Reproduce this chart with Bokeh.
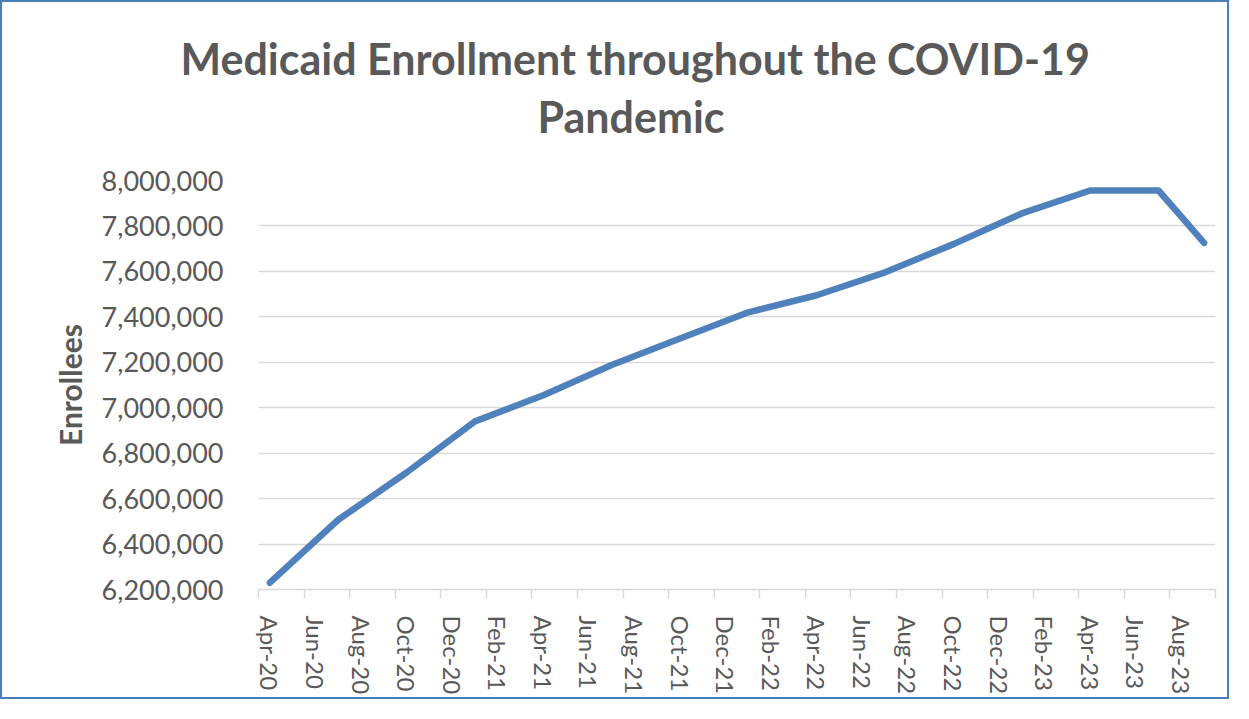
from bokeh.plotting import figure
from bokeh.models import Range1d, FixedTicker, NumeralTickFormatter, Title
from bokeh.embed import file_html
from bokeh.resources import INLINE

# ---- data ----
month_names = ["Jan", "Feb", "Mar", "Apr", "May", "Jun", "Jul", "Aug", "Sep", "Oct", "Nov", "Dec"]
_all = [f"{m}-{y}" for y in ["20", "21", "22", "23"] for m in month_names]
all_months = _all[_all.index("Apr-20"): _all.index("Sep-23") + 1]

dates = ["Apr-20", "Jul-20", "Oct-20", "Jan-21", "Apr-21", "Jul-21", "Oct-21", "Jan-22",
         "Apr-22", "Jul-22", "Oct-22", "Jan-23", "Apr-23", "Jul-23", "Sep-23"]
enrollees = [6230000, 6507000, 6715000, 6940000, 7055000, 7188000, 7305000, 7420000,
             7495000, 7596000, 7720000, 7855000, 7956000, 7956000, 7725000]

x_tick_labels = ["Apr-20", "Jun-20", "Aug-20", "Oct-20", "Dec-20", "Feb-21", "Apr-21",
                 "Jun-21", "Aug-21", "Oct-21", "Dec-21", "Feb-22", "Apr-22", "Jun-22",
                 "Aug-22", "Oct-22", "Dec-22", "Feb-23", "Apr-23", "Jun-23", "Aug-23"]
y_ticks = [6200000, 6400000, 6600000, 6800000, 7000000, 7200000, 7400000, 7600000,
           7800000, 8000000]

title_line1 = "Medicaid Enrollment throughout the COVID-19"
title_line2 = "Pandemic"
y_label = "Enrollees"

# ---- figure ----
TEXT = "#595959"
GRID = "#D9D9D9"
FONT = "Lato"

n = len(all_months)
x_vals = [all_months.index(d) for d in dates]

p = figure(width=1229, height=699, output_backend="svg", toolbar_location=None,
           x_range=Range1d(-0.5, n - 0.5), y_range=Range1d(y_ticks[0], y_ticks[-1]),
           min_border_left=256, min_border_right=16, min_border_top=178,
           min_border_bottom=112)
p.styles = {"border": "2px solid #4A7EBB"}
p.outline_line_color = None
p.background_fill_color = "white"
p.border_fill_color = "white"

# titles: spacer (innermost), second line, first line (outermost)
spacer = Title(text=" ", text_font_size="10px", standoff=26, text_color="white")
p.add_layout(spacer, "above")
t2 = Title(text=title_line2, align="left", offset=279, text_font=FONT,
           text_font_style="bold", text_font_size="43px", text_color=TEXT, standoff=0)
p.add_layout(t2, "above")

p.title.text = title_line1
p.title.text_font = FONT
p.title.text_font_style = "bold"
p.title.text_font_size = "43px"
p.title.text_color = TEXT
p.title.align = "left"
p.title.offset = -78
p.title.standoff = 10

p.line(x_vals, enrollees, line_width=6.5, line_color="#4F81BD",
       line_cap="round", line_join="round")

# x axis
xticks = [all_months.index(l) for l in x_tick_labels]
p.xaxis.ticker = FixedTicker(ticks=xticks,
                             minor_ticks=[i - 0.5 for i in range(0, n + 1, 2)])
p.xaxis.major_label_overrides = {i: all_months[i] for i in xticks}
p.xaxis.major_label_orientation = "vertical"
p.xaxis.major_label_text_font = FONT
p.xaxis.major_label_text_font_size = "24px"
p.xaxis.major_label_text_color = TEXT
p.xaxis.major_label_standoff = 17
p.xaxis.major_tick_line_color = None
p.xaxis.major_tick_out = 0
p.xaxis.major_tick_in = 0
p.xaxis.minor_tick_line_color = GRID
p.xaxis.minor_tick_line_width = 1.5
p.xaxis.minor_tick_out = 9
p.xaxis.minor_tick_in = 0
p.xaxis.axis_line_color = GRID
p.xaxis.axis_line_width = 1.5
p.xgrid.grid_line_color = None

# y axis
p.yaxis.ticker = FixedTicker(ticks=y_ticks)
p.yaxis.formatter = NumeralTickFormatter(format="0,0")
p.yaxis.major_label_text_font = FONT
p.yaxis.major_label_text_font_size = "27px"
p.yaxis.major_label_text_color = TEXT
p.yaxis.major_label_standoff = 35
p.yaxis.axis_line_color = None
p.yaxis.major_tick_line_color = None
p.yaxis.major_tick_out = 0
p.yaxis.major_tick_in = 0
p.yaxis.minor_tick_line_color = None
p.yaxis.axis_label = y_label
p.yaxis.axis_label_text_font = FONT
p.yaxis.axis_label_text_font_style = "bold"
p.yaxis.axis_label_text_font_size = "30px"
p.yaxis.axis_label_text_color = TEXT
p.yaxis.axis_label_standoff = 11
p.ygrid.grid_line_color = GRID
p.ygrid.grid_line_width = 1.5

open("out.html", "w").write(file_html(p, INLINE))
